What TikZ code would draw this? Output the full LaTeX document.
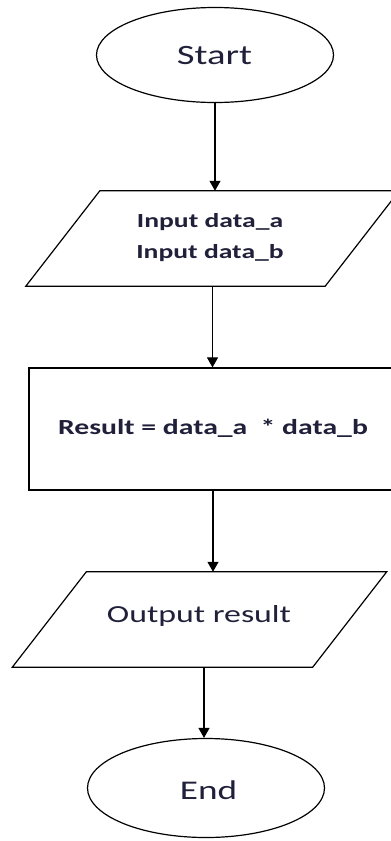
\documentclass[tikz,border=0pt]{standalone}
\usepackage{fontspec}
\setmainfont{Carlito}
\usetikzlibrary{arrows.meta,calc,shapes.geometric}
\definecolor{txtc}{RGB}{32,32,58}
\newcommand{\wtxt}[1]{\scalebox{1.38}[1]{#1}}
\begin{document}
\begin{tikzpicture}[x=1pt,y=-1pt,
  shp/.style={draw=black,line width=1.2pt},
  term/.style={shp,ellipse,inner sep=0pt},
  lbl/.style={text=txtc,inner sep=0pt,align=center},
  arr/.style={draw=black,line width=1.1pt,-{Triangle[width=11pt,length=10pt]}}]
\fill[white] (0,0) rectangle (391,841);
\clip (0,0) rectangle (391,841);
\useasboundingbox (0,0) rectangle (391,841);

% Start
\node[term,minimum width=237pt,minimum height=95pt] (start) at (215,55) {};
\node[lbl,font=\fontsize{28}{32}\selectfont] (startt) at (214.5,56) {\wtxt{Start}};

% Input parallelogram
\node[minimum width=299pt,minimum height=95pt,inner sep=0pt] (in) at (212.5,238.5) {};
\draw[shp] ([xshift=-37pt]in.south west) -- ([xshift=-37pt]in.south east)
  -- ([xshift=37pt]in.north east) -- ([xshift=37pt]in.north west) -- cycle;
\node[lbl,font=\bfseries\fontsize{20}{31}\selectfont] (int) at (210,238) {\wtxt{Input data\_a}\\\wtxt{Input data\_b}};

% Process
\node[shp,minimum width=368pt,minimum height=122pt,inner sep=0pt] (proc) at (213,429) {};
\node[lbl,font=\bfseries\fontsize{21.5}{26}\selectfont] (proct) at (213,428) {\wtxt{Result = data\_a \ * data\_b}};

% Output parallelogram
\node[minimum width=300pt,minimum height=95pt,inner sep=0pt] (out) at (199.5,619.5) {};
\draw[shp] ([xshift=-37pt]out.south west) -- ([xshift=-37pt]out.south east)
  -- ([xshift=37pt]out.north east) -- ([xshift=37pt]out.north west) -- cycle;
\node[lbl,font=\fontsize{24.5}{28}\selectfont] (outt) at (199,616) {\wtxt{Output result}};

% End
\node[term,minimum width=237pt,minimum height=99pt] (end) at (206,788) {};
\node[lbl,font=\fontsize{27}{30}\selectfont] (endt) at (208.5,790) {\wtxt{End}};

% Connectors
\draw[arr] (start.south) -- (start.south |- in.north);
\draw[arr] (in.south) -- (in.south |- proc.north);
\draw[arr] (proc.south) -- (proc.south |- out.north);
\draw[arr] ([xshift=4.5pt]out.south) -- ([xshift=4.5pt]out.south |- end.north);
\end{tikzpicture}
\end{document}
